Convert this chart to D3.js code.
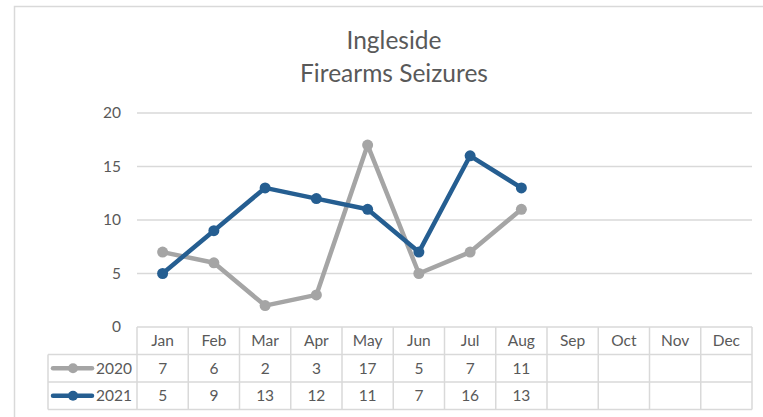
<!DOCTYPE html>
<html>
<head>
<meta charset="utf-8">
<script src="https://cdn.jsdelivr.net/npm/d3@7"></script>
<style>
  body { margin: 0; background: #fff; }
  svg { display: block; font-family: Lato, "Open Sans", sans-serif; }
</style>
</head>
<body>
<div id="chart"></div>
<script>
// chart data
var months = ["Jan", "Feb", "Mar", "Apr", "May", "Jun", "Jul", "Aug", "Sep", "Oct", "Nov", "Dec"];
var seriesNames = ["2020", "2021"];
var values2020 = [7, 6, 2, 3, 17, 5, 7, 11];
var values2021 = [5, 9, 13, 12, 11, 7, 16, 13];
var yTicks = [0, 5, 10, 15, 20];
var titleLines = ["Ingleside", "Firearms Seizures"];

var colors = ["#A5A5A5", "#255E91"];
var textColor = "#595959";
var gridColor = "#D9D9D9";

var width = 763, height = 417;
var plot = { left: 137, right: 752, top: 113, bottom: 327 };
var legendLeft = 48;
var rowH = 27.5;
var fs = "15.5px";

var svg = d3.select("#chart").append("svg")
  .attr("width", width)
  .attr("height", height);

// chart border
svg.append("rect")
  .attr("x", 14.5).attr("y", 6.5)
  .attr("width", 800).attr("height", 500)
  .attr("fill", "#fff")
  .attr("stroke", gridColor)
  .attr("stroke-width", 1.5);

// title
svg.append("g").selectAll("text")
  .data(titleLines)
  .enter().append("text")
    .attr("x", 394)
    .attr("y", function(d, i) { return 49 + i * 33; })
    .attr("text-anchor", "middle")
    .attr("fill", textColor)
    .style("font-size", "24.5px")
    .text(function(d) { return d; });

var x = d3.scaleBand()
  .domain(months)
  .range([plot.left, plot.right]);

var y = d3.scaleLinear()
  .domain([0, 20])
  .range([plot.bottom, plot.top]);

// gridlines
svg.append("g").selectAll("line")
  .data(yTicks.filter(function(d) { return d > 0; }))
  .enter().append("line")
    .attr("x1", plot.left).attr("x2", plot.right)
    .attr("y1", function(d) { return y(d); })
    .attr("y2", function(d) { return y(d); })
    .attr("stroke", gridColor)
    .attr("stroke-width", 1.3);

// y axis labels
var yAxis = d3.axisLeft(y).tickValues(yTicks).tickSize(0).tickPadding(16);
var yg = svg.append("g")
  .attr("transform", "translate(" + plot.left + ",0)")
  .call(yAxis);
yg.select(".domain").remove();
yg.selectAll("text")
  .attr("fill", textColor)
  .style("font-size", fs)
  .style("font-family", "Lato, 'Open Sans', sans-serif");

// data table
var table = svg.append("g");
var tableBottom = plot.bottom + rowH * 3;
var lineStyle = function(sel) {
  sel.attr("stroke", gridColor).attr("stroke-width", 1.5);
};

// horizontal lines
table.append("line").call(lineStyle)
  .attr("x1", plot.left).attr("x2", plot.right)
  .attr("y1", plot.bottom).attr("y2", plot.bottom);
[1, 2, 3].forEach(function(r) {
  table.append("line").call(lineStyle)
    .attr("x1", legendLeft).attr("x2", plot.right)
    .attr("y1", plot.bottom + r * rowH).attr("y2", plot.bottom + r * rowH);
});
// vertical lines
table.append("line").call(lineStyle)
  .attr("x1", legendLeft).attr("x2", legendLeft)
  .attr("y1", plot.bottom + rowH).attr("y2", tableBottom);
months.forEach(function(m) {
  table.append("line").call(lineStyle)
    .attr("x1", x(m)).attr("x2", x(m))
    .attr("y1", plot.bottom).attr("y2", tableBottom);
});
table.append("line").call(lineStyle)
  .attr("x1", plot.right).attr("x2", plot.right)
  .attr("y1", plot.bottom).attr("y2", tableBottom);

// month labels
table.append("g").selectAll("text")
  .data(months)
  .enter().append("text")
    .attr("x", function(d) { return x(d) + x.bandwidth() / 2; })
    .attr("y", plot.bottom + rowH / 2 + 5.5)
    .attr("text-anchor", "middle")
    .attr("fill", textColor)
    .style("font-size", fs)
    .text(function(d) { return d; });

var allSeries = [values2020, values2021];

allSeries.forEach(function(vals, si) {
  var rowY = plot.bottom + rowH * (si + 1) + rowH / 2;
  table.append("g").selectAll("text")
    .data(vals)
    .enter().append("text")
      .attr("x", function(d, i) { return x(months[i]) + x.bandwidth() / 2; })
      .attr("y", rowY + 5.5)
      .attr("text-anchor", "middle")
      .attr("fill", textColor)
      .style("font-size", fs)
      .text(function(d) { return d; });

  // legend key
  table.append("line")
    .attr("x1", legendLeft + 5).attr("x2", legendLeft + 44)
    .attr("y1", rowY).attr("y2", rowY)
    .attr("stroke", colors[si]).attr("stroke-width", 4.5)
    .attr("stroke-linecap", "round");
  table.append("circle")
    .attr("cx", legendLeft + 25).attr("cy", rowY).attr("r", 5)
    .attr("fill", colors[si]);
  table.append("text")
    .attr("x", legendLeft + 48)
    .attr("y", rowY + 5.5)
    .attr("fill", textColor)
    .style("font-size", fs)
    .text(seriesNames[si]);
});

// lines and markers
var line = d3.line()
  .x(function(d, i) { return x(months[i]) + x.bandwidth() / 2; })
  .y(function(d) { return y(d); });

allSeries.forEach(function(vals, si) {
  var g = svg.append("g");
  g.append("path")
    .attr("d", line(vals))
    .attr("fill", "none")
    .attr("stroke", colors[si])
    .attr("stroke-width", 4.5)
    .attr("stroke-linejoin", "round")
    .attr("stroke-linecap", "round");
  g.selectAll("circle")
    .data(vals)
    .enter().append("circle")
      .attr("cx", function(d, i) { return x(months[i]) + x.bandwidth() / 2; })
      .attr("cy", function(d) { return y(d); })
      .attr("r", 5.5)
      .attr("fill", colors[si]);
});
</script>
</body>
</html>
